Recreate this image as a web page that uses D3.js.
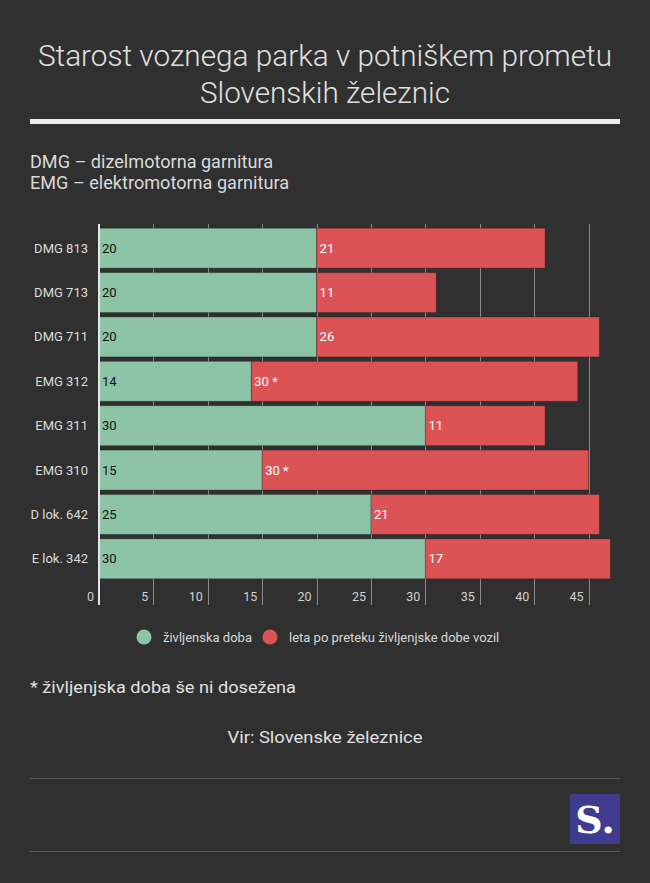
<!DOCTYPE html>
<html><head><meta charset="utf-8">
<script src="https://cdn.jsdelivr.net/npm/d3@7"></script>
<style>
html,body{margin:0;padding:0;background:#303030;}
svg{display:block;font-family:Roboto,"Noto Sans",sans-serif;}
</style></head>
<body>
<svg id="c" width="650" height="883"></svg>
<script>
const categories = ["DMG 813","DMG 713","DMG 711","EMG 312","EMG 311","EMG 310","D lok. 642","E lok. 342"];
const lifespan = [20,20,20,14,30,15,25,30];
const overdue = [21,11,26,30,11,30,21,17];
const overdueLabels = ["21","11","26","30 *","11","30 *","21","17"];
const tickValues = [0,5,10,15,20,25,30,35,40,45];
const seriesNames = ["življenska doba","leta po preteku življenjske dobe vozil"];
const colors = ["#8dc4a8","#dc5356"];

const svg = d3.select("#c");
svg.append("rect").attr("width",650).attr("height",883).attr("fill","#303030");

// Title
const title = svg.append("text").attr("text-anchor","middle").attr("fill","#e0e0e0")
  .style("font-size","30px").style("font-weight","300");
title.append("tspan").attr("x",325).attr("y",66).attr("textLength",574).attr("lengthAdjust","spacingAndGlyphs").text("Starost voznega parka v potniškem prometu");
title.append("tspan").attr("x",325).attr("y",103).attr("textLength",250).attr("lengthAdjust","spacingAndGlyphs").text("Slovenskih železnic");
svg.append("rect").attr("x",30).attr("y",119).attr("width",590).attr("height",5).attr("fill","#ececec");

// Subtitle
const sub = svg.append("text").attr("fill","#dadada").style("font-size","17.5px");
sub.append("tspan").attr("x",30).attr("y",168).attr("textLength",243).attr("lengthAdjust","spacingAndGlyphs").text("DMG – dizelmotorna garnitura");
sub.append("tspan").attr("x",30).attr("y",189).attr("textLength",259).attr("lengthAdjust","spacingAndGlyphs").text("EMG – elektromotorna garnitura");

// Scales
const x = d3.scaleLinear().domain([0,45]).range([99,588.6]);
const y = d3.scaleBand().domain(categories).range([226,581]).paddingInner(0.1).paddingOuter(0.05);

// Gridlines
const g = svg.append("g");
g.selectAll("line.grid").data(tickValues.slice(1)).join("line")
  .attr("x1",d=>Math.round(x(d))+0.5).attr("x2",d=>Math.round(x(d))+0.5).attr("y1",224).attr("y2",605)
  .attr("stroke","#8a8a8a").attr("stroke-width",1);

// Bars
const rows = categories.map((c,i)=>({c,a:lifespan[i],b:overdue[i],lb:overdueLabels[i]}));
const bars = svg.append("g");
bars.selectAll("rect.a").data(rows).join("rect")
  .attr("x",x(0)).attr("y",d=>y(d.c)).attr("width",d=>x(d.a)-x(0)).attr("height",y.bandwidth())
  .attr("fill",colors[0]).attr("stroke","rgba(0,0,0,0.25)").attr("stroke-width",1);
bars.selectAll("rect.b").data(rows).join("rect")
  .attr("x",d=>x(d.a)).attr("y",d=>y(d.c)).attr("width",d=>x(d.a+d.b)-x(d.a)).attr("height",y.bandwidth())
  .attr("fill",colors[1]).attr("stroke","rgba(0,0,0,0.25)").attr("stroke-width",1);

// Value labels
bars.selectAll("text.a").data(rows).join("text")
  .attr("x",x(0)+3).attr("y",d=>y(d.c)+y.bandwidth()/2).attr("dy","0.35em")
  .attr("fill","#111").style("font-size","13px").text(d=>d.a);
bars.selectAll("text.b").data(rows).join("text")
  .attr("x",d=>x(d.a)+3).attr("y",d=>y(d.c)+y.bandwidth()/2).attr("dy","0.35em")
  .attr("fill","#fff").style("font-size","13px").text(d=>d.lb);

// Y axis labels
svg.append("g").selectAll("text").data(categories).join("text")
  .attr("x",88).attr("y",d=>y(d)+y.bandwidth()/2).attr("dy","0.35em").attr("text-anchor","end")
  .attr("fill","#dcdcdc").style("font-size","13px").text(d=>d);

// Axis line
svg.append("rect").attr("x",98).attr("y",224).attr("width",2).attr("height",381).attr("fill","#e6e6e6");

// X tick labels
svg.append("g").selectAll("text").data(tickValues).join("text")
  .attr("x",d=>x(d)-5).attr("y",601).attr("text-anchor","end")
  .attr("fill","#d0d0d0").style("font-size","12.5px").text(d=>d);

// Legend
const leg = svg.append("g");
const legX = [144,270];
seriesNames.forEach((n,i)=>{
  leg.append("circle").attr("cx",legX[i]).attr("cy",637).attr("r",7.5).attr("fill",colors[i]);
  leg.append("text").attr("x",legX[i]+19).attr("y",637).attr("dy","0.35em")
    .attr("fill","#d8d8d8").style("font-size","13px").text(n);
});

// Footnote
svg.append("text").attr("x",30).attr("y",693).attr("fill","#e0e0e0").style("font-size","17px")
  .attr("textLength",266).attr("lengthAdjust","spacingAndGlyphs").text("* življenjska doba še ni dosežena");
svg.append("text").attr("x",325).attr("y",743).attr("text-anchor","middle").attr("fill","#e0e0e0").style("font-size","17px")
  .attr("textLength",195).attr("lengthAdjust","spacingAndGlyphs").text("Vir: Slovenske železnice");

// Footer lines
svg.append("rect").attr("x",30).attr("y",778).attr("width",590).attr("height",1).attr("fill","#5a5a5a");
svg.append("rect").attr("x",30).attr("y",851).attr("width",590).attr("height",1).attr("fill","#5a5a5a");

// Logo
svg.append("rect").attr("x",570).attr("y",794).attr("width",50).attr("height",50).attr("rx",2).attr("fill","#3f3b8f");
svg.append("text").attr("x",595).attr("y",833).attr("text-anchor","middle").attr("fill","#fff")
  .style("font-family","'DejaVu Serif','Liberation Serif',serif").style("font-weight","bold").style("font-size","38px").text("S.");
</script>
</body></html>
